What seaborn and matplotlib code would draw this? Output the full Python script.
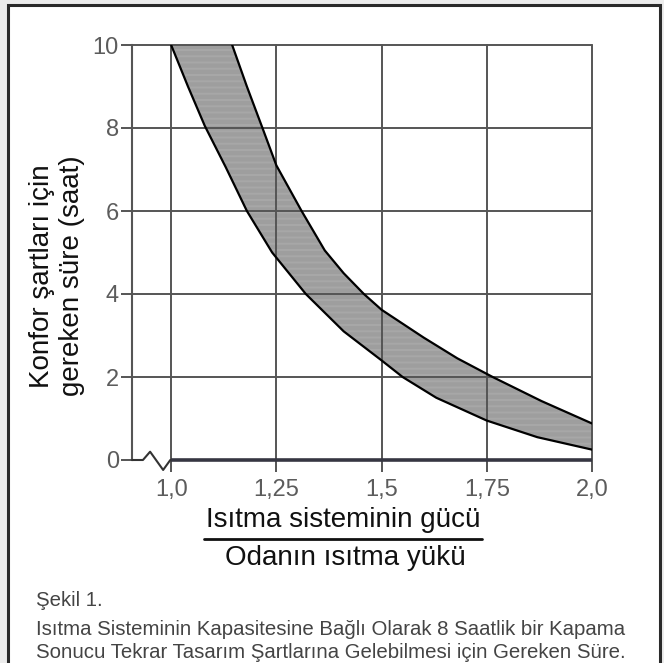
import matplotlib
matplotlib.use("Agg")
import matplotlib.pyplot as plt
import seaborn as sns
import numpy as np
from matplotlib.patches import Rectangle
from matplotlib.lines import Line2D

# values
x_ticks = [1.0, 1.25, 1.5, 1.75, 2.0]
x_tick_labels = ["1,0", "1,25", "1,5", "1,75", "2,0"]
y_ticks = [0, 2, 4, 6, 8, 10]
y_tick_labels = ["0", "2", "4", "6", "8", "10"]

# lower (left) edge of the band
lower_x = [1.00, 1.04, 1.08, 1.13, 1.18, 1.24, 1.32, 1.41, 1.50, 1.55, 1.63, 1.75, 1.87, 2.00]
lower_y = [10.0, 9.0, 8.05, 7.05, 6.0, 5.0, 4.0, 3.1, 2.4, 2.0, 1.5, 0.95, 0.55, 0.25]

# upper (right) edge of the band
upper_x = [1.145, 1.18, 1.217, 1.25, 1.31, 1.365, 1.41, 1.458, 1.50, 1.60, 1.68, 1.764, 1.88, 2.00]
upper_y = [10.0, 9.0, 8.0, 7.1, 6.0, 5.05, 4.5, 4.0, 3.62, 2.95, 2.45, 2.0, 1.42, 0.88]

# axis break mark at the left end of the x axis
break_x = [0.907, 0.933, 0.95, 0.981, 0.998]
break_y = [0, 0, 0.2, -0.24, 0]

y_label = "Konfor şartları için\ngereken süre (saat)"
x_label_top = "Isıtma sisteminin gücü"
x_label_bottom = "Odanın ısıtma yükü"
caption = ["Şekil 1.",
           "Isıtma Sisteminin Kapasitesine Bağlı Olarak 8 Saatlik bir Kapama",
           "Sonucu Tekrar Tasarım Şartlarına Gelebilmesi için Gereken Süre."]

sns.set_theme(style="white")
plt.rcParams['font.family'] = ['Liberation Sans', 'DejaVu Sans']
plt.rcParams['hatch.linewidth'] = 0.6
narrow = ['Liberation Sans Narrow', 'Liberation Sans', 'DejaVu Sans']

W, H = 664, 663
fig = plt.figure(figsize=(W / 100, H / 100), dpi=100, facecolor='#ececec')
fig.patches.append(Rectangle((8 / W, -0.05), (660 - 8) / W, 1.05 - 5 / H,
                             transform=fig.transFigure, facecolor='white',
                             edgecolor='#2a2a2a', lw=2.2, zorder=-5))

ax = fig.add_axes([132 / W, 1 - 460 / H, (592 - 132) / W, (460 - 45) / H])
ax.set_zorder(2)
ax.set_facecolor('white')
ax.set_xlim(0.907, 2.0)
ax.set_ylim(0, 10)

# shaded band between the two curves
poly_x = np.concatenate([lower_x, upper_x[::-1]])
poly_y = np.concatenate([lower_y, upper_y[::-1]])
ax.fill(poly_x, poly_y, facecolor='#7f7f7f', edgecolor='#b0b0b0',
        hatch='-' * 14, lw=0, zorder=1)

# grid
for yv in y_ticks[1:]:
    ax.axhline(yv, color='#555555', lw=1.4, zorder=2, clip_on=False)
for xv in x_ticks:
    ax.axvline(xv, color='#555555', lw=1.4, zorder=2, clip_on=False)
ax.plot([x_ticks[0], x_ticks[-1]], [0, 0], color='#363642', lw=2.6,
        zorder=3, clip_on=False, solid_capstyle='butt')
ax.plot(break_x, break_y, color='#333333', lw=1.5, zorder=3, clip_on=False)

sns.lineplot(x=lower_x, y=lower_y, sort=False, color='black', lw=1.6, ax=ax,
             zorder=4, solid_joinstyle='round')
sns.lineplot(x=upper_x, y=upper_y, sort=False, color='black', lw=1.6, ax=ax,
             zorder=4, solid_joinstyle='round')

for s in ['top', 'right', 'bottom']:
    ax.spines[s].set_visible(False)
ax.spines['left'].set_color('#555555')
ax.spines['left'].set_linewidth(1.5)

ax.set_xticks(x_ticks, x_tick_labels)
ax.set_yticks(y_ticks, y_tick_labels)
ax.tick_params(axis='x', bottom=True, direction='out', length=8.6, width=1.4,
               color='#555555', pad=5, labelsize=17, labelcolor='#5c5c5c')
ax.tick_params(axis='y', left=True, direction='out', length=8, width=1.4,
               color='#555555', pad=1.5, labelsize=17, labelcolor='#5c5c5c')
for lab in ax.get_xticklabels() + ax.get_yticklabels():
    lab.set_fontfamily(narrow)
ax.set_xlabel('')
ax.set_ylabel('')

fig.text(57 / W, 1 - 276 / H, y_label, rotation=90, ha='center', va='center',
         fontsize=20, linespacing=1.2, color='#111111')

t1 = fig.text(343 / W, 1 - 527 / H, x_label_top, ha='center', va='baseline',
              fontsize=20, color='#111111')
fig.text(345 / W, 1 - 565 / H, x_label_bottom, ha='center', va='baseline',
         fontsize=20, color='#111111')

caps = []
for txt, base in zip(caption, [606, 635, 658]):
    caps.append(fig.text(36 / W, 1 - base / H, txt, ha='left', va='baseline',
                         fontsize=17, color='#444444', family=narrow))

fig.canvas.draw()
bb = t1.get_window_extent()
fig.add_artist(Line2D([(bb.x0 - 2) / W, (bb.x1 + 2) / W], [1 - 539 / H] * 2,
                      transform=fig.transFigure, color='#111111', lw=2))
scale = 590 / caps[1].get_window_extent().width
for c in caps:
    c.set_fontsize(17 * scale)

fig.savefig('out.png', dpi=100, facecolor=fig.get_facecolor())
